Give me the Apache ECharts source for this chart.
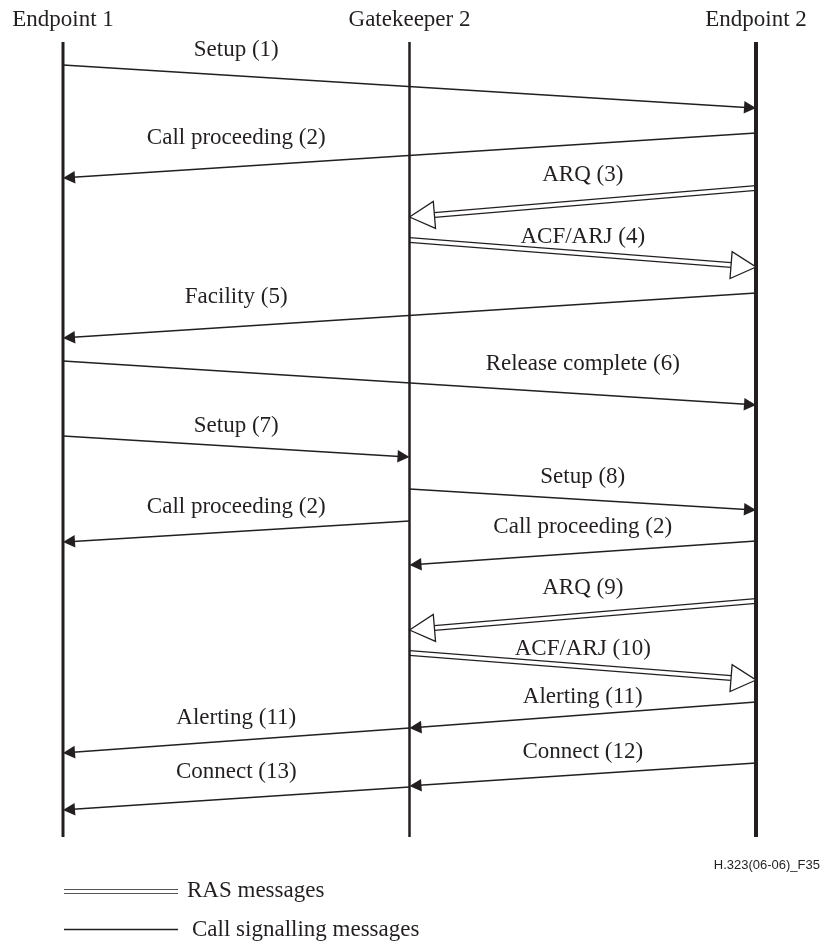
<!DOCTYPE html>
<html>
<head>
<meta charset="utf-8">
<script src="https://cdn.jsdelivr.net/npm/echarts@6/dist/echarts.min.js"></script>
<style>
html,body{margin:0;padding:0;background:#fff;}
#chart{width:823px;height:948px;}
</style>
</head>
<body>
<div id="chart"></div>
<script>
// ---- data ----
const laneNames = ['Endpoint 1', 'Gatekeeper 2', 'Endpoint 2'];
const lifelineSpan = [42, 837];            // time extent of lifelines
const messageLabels = [
  'Setup (1)', 'Call proceeding (2)', 'ARQ (3)', 'ACF/ARJ (4)', 'Facility (5)',
  'Release complete (6)', 'Setup (7)', 'Setup (8)', 'Call proceeding (2)',
  'Call proceeding (2)', 'ARQ (9)', 'ACF/ARJ (10)', 'Alerting (11)',
  'Alerting (11)', 'Connect (12)', 'Connect (13)'
];
const fromLane  = [0, 2, 2, 1, 2, 0, 0, 1, 1, 2, 2, 1, 2, 1, 2, 1];
const toLane    = [2, 0, 1, 2, 0, 2, 1, 2, 0, 1, 1, 2, 1, 0, 1, 0];
const startTime = [65, 133, 188, 240, 293, 361, 436, 489, 521, 541, 601, 653, 702, 728, 763, 787];
const endTime   = [108, 178, 217, 267, 338, 405, 457, 510, 542, 565, 630, 680, 728, 753, 786, 810];
const labelLane = [0.5, 0.5, 1.5, 1.5, 0.5, 1.5, 0.5, 1.5, 0.5, 1.5, 1.5, 1.5, 1.5, 0.5, 1.5, 0.5];
const labelTime = [50, 138, 175, 237, 297, 364, 426, 477, 507, 527, 588, 649, 697, 718, 752, 772];
const messageKind = ['call', 'call', 'ras', 'ras', 'call', 'call', 'call', 'call', 'call',
  'call', 'ras', 'ras', 'call', 'call', 'call', 'call'];
const legendLabels = ['RAS messages', 'Call signalling messages'];
const figureId = 'H.323(06-06)_F35';

// ---- styling ----
const INK = '#231f20';
const SERIF = '"Liberation Serif", "Times New Roman", serif';
const lifelineWidths = [3, 2.5, 4];

const chart = echarts.init(document.getElementById('chart'), null, {renderer: 'canvas'});

function renderLifeline(params, api) {
  const lane = api.value(0);
  const a = api.coord([lane, lifelineSpan[0]]);
  const b = api.coord([lane, lifelineSpan[1]]);
  return {
    type: 'line',
    shape: {x1: a[0], y1: a[1], x2: b[0], y2: b[1]},
    style: {stroke: INK, lineWidth: lifelineWidths[params.dataIndex]}
  };
}

function renderMessage(params, api) {
  const i = params.dataIndex;
  const p1 = api.coord([api.value(0), api.value(1)]);
  const p2 = api.coord([api.value(2), api.value(3)]);
  const dx = p2[0] - p1[0], dy = p2[1] - p1[1];
  const len = Math.sqrt(dx * dx + dy * dy);
  const ux = dx / len, uy = dy / len;
  const nx = -uy, ny = ux;
  const children = [];
  if (messageKind[i] === 'call') {
    const hl = 12, hw = 6.3;
    const bx = p2[0] - ux * hl, by = p2[1] - uy * hl;
    children.push({
      type: 'line',
      shape: {x1: p1[0], y1: p1[1], x2: bx + ux * 2, y2: by + uy * 2},
      style: {stroke: INK, lineWidth: 1.5}
    });
    children.push({
      type: 'polygon',
      shape: {points: [[p2[0], p2[1]], [bx + nx * hw, by + ny * hw], [bx - nx * hw, by - ny * hw]]},
      style: {fill: INK}
    });
  } else {
    const hl = 25, hw = 13.5, gap = 2.4;
    const bx = p2[0] - ux * hl, by = p2[1] - uy * hl;
    [1, -1].forEach(function (s) {
      children.push({
        type: 'line',
        shape: {x1: p1[0] + nx * gap * s, y1: p1[1] + ny * gap * s,
                x2: bx + nx * gap * s, y2: by + ny * gap * s},
        style: {stroke: INK, lineWidth: 1.3}
      });
    });
    children.push({
      type: 'polygon',
      shape: {points: [[p2[0], p2[1]], [bx + nx * hw, by + ny * hw], [bx - nx * hw, by - ny * hw]]},
      style: {fill: '#fff', stroke: INK, lineWidth: 1.3}
    });
  }
  const lp = api.coord([api.value(4), api.value(5)]);
  children.push({
    type: 'text',
    x: lp[0], y: lp[1],
    style: {text: messageLabels[i], fill: INK, font: '23px ' + SERIF,
            align: 'center', verticalAlign: 'middle'}
  });
  return {type: 'group', children: children};
}

const option = {
  backgroundColor: '#fff',
  animation: false,
  grid: {left: 63, right: 67, top: 42, bottom: 111},
  xAxis: {
    type: 'value', min: 0, max: laneNames.length - 1, interval: 1,
    position: 'top',
    axisLine: {show: false}, axisTick: {show: false}, splitLine: {show: false},
    axisLabel: {
      margin: 11, color: INK, fontSize: 23, fontFamily: SERIF,
      formatter: function (v) { return laneNames[v] || ''; }
    }
  },
  yAxis: {
    type: 'value', inverse: true, min: lifelineSpan[0], max: lifelineSpan[1], show: false
  },
  series: [
    {
      type: 'custom', name: 'lifelines', z: 2,
      renderItem: renderLifeline,
      data: laneNames.map(function (_, k) { return [k]; })
    },
    {
      type: 'custom', name: 'messages', z: 3,
      renderItem: renderMessage,
      data: messageLabels.map(function (_, k) {
        return [fromLane[k], startTime[k], toLane[k], endTime[k], labelLane[k], labelTime[k]];
      })
    }
  ],
  graphic: [
    {type: 'text', right: 3, top: 859,
     style: {text: figureId, fill: INK, font: '13px "Liberation Sans", Arial, sans-serif'}},
    {type: 'line', shape: {x1: 64, y1: 889.5, x2: 178, y2: 889.5}, style: {stroke: '#555', lineWidth: 1.2}},
    {type: 'line', shape: {x1: 64, y1: 893.5, x2: 178, y2: 893.5}, style: {stroke: '#555', lineWidth: 1.2}},
    {type: 'text', x: 187, y: 891,
     style: {text: legendLabels[0], fill: INK, font: '23px ' + SERIF, verticalAlign: 'middle'}},
    {type: 'line', shape: {x1: 64, y1: 929.5, x2: 178, y2: 929.5}, style: {stroke: INK, lineWidth: 1.3}},
    {type: 'text', x: 192, y: 930,
     style: {text: legendLabels[1], fill: INK, font: '23px ' + SERIF, verticalAlign: 'middle'}}
  ]
};
chart.setOption(option);
</script>
</body>
</html>
